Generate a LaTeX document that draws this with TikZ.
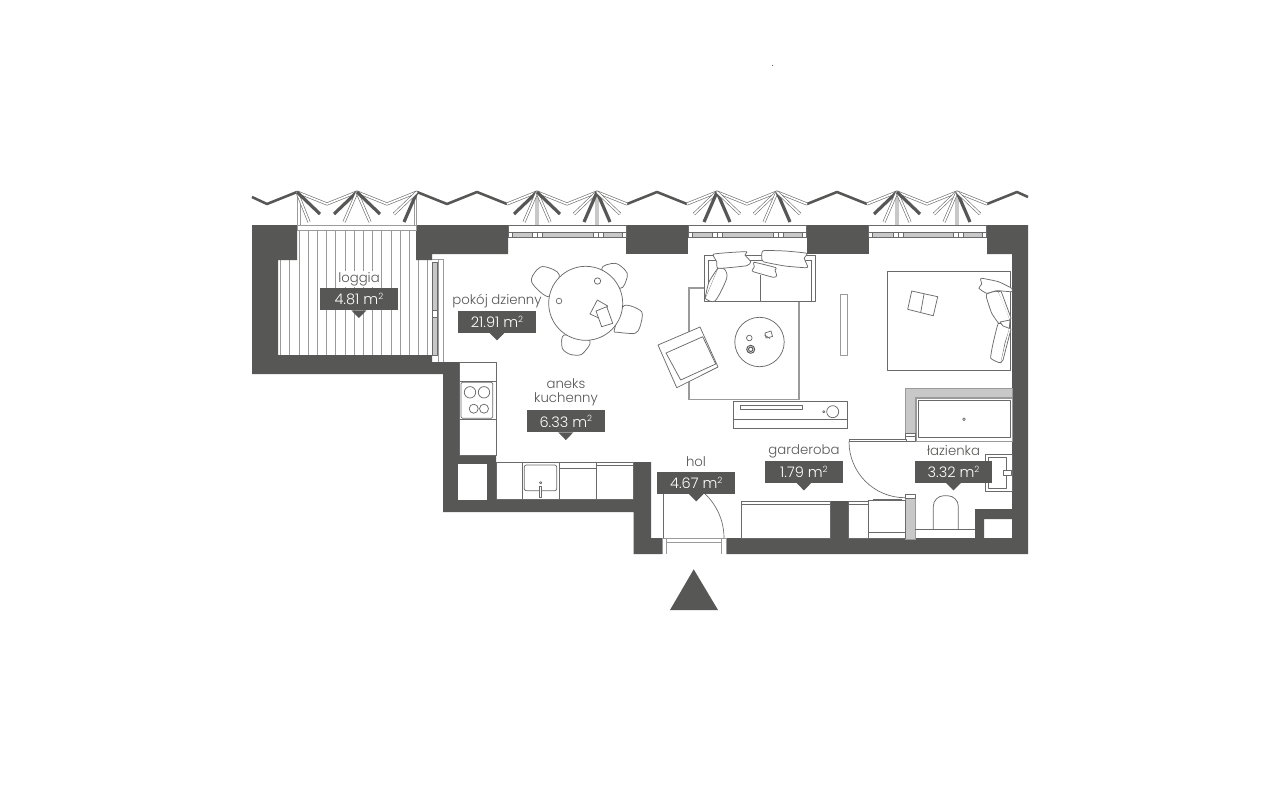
\documentclass[tikz,border=0pt]{standalone}
\usepackage{fontspec}
\setmainfont{Poppins}[UprightFont=* Light]
\definecolor{wall}{HTML}{575756}
\definecolor{ln}{HTML}{6A6A6A}
\definecolor{gr}{HTML}{9A9A9A}
\definecolor{lg}{HTML}{C8C8C8}
\usetikzlibrary{calc}
\tikzset{
 x=0.75pt,y=-0.75pt,
 wl/.style={fill=wall,draw=none},
 thin line/.style={draw=ln,line width=0.5pt,fill=white},
 furn/.style={draw=ln,line width=0.55pt,fill=white,line join=round},
 rugline/.style={draw=gr,line width=0.9pt},
 dk/.style={draw=wall,line width=2.4pt},
 lt/.style={draw=ln,line width=0.45pt,double=white,double distance=1.3pt},
 gy/.style={draw=ln,line width=0.4pt,double=lg,double distance=2.6pt},
 tag/.style={fill=wall,text=white,minimum width=58.2pt,minimum height=16.5pt,inner sep=0pt,font=\fontsize{10.9}{12}\selectfont},
 room/.style={text=wall,inner sep=0.8pt,font=\fontsize{9.95}{11.5}\selectfont,align=center},
 ptr/.style={fill=wall,draw=none}
}
\newcommand{\areatag}[4]{%
 \node[tag] (#1) at (#2,#3) {#4 m{\fontsize{6.5}{7}\selectfont\raisebox{4pt}{2}}};
 \fill[ptr] ($(#1.south)+(-7.5,-0.2)$) -- ($(#1.south)+(7.5,-0.2)$) -- ($(#1.south)+(0,7.5)$) -- cycle;}
\begin{document}
\begin{tikzpicture}
\useasboundingbox (0,0) rectangle (1280,800);
\fill[white] (0,0) rectangle (1280,800);
\fill[wall] (771.6,64.6) rectangle (772.6,65.4);
% loggia hatch
\foreach \n in {0,...,16} \draw[draw=gr,line width=0.55pt] ({280.5+9.2*\n},230) -- ({280.5+9.2*\n},355);
% walls
\fill[wl] (252,225)--(297,225)--(297,260)--(278,260)--(278,355)--(432,355)--(432,362)--(459,362)--(459,455)--(496,455)--(496,499)--(633.5,499)--(633.5,462)--(651,462)--(651,538)--(662,538)--(662,554)--(633.5,554)--(633.5,512)--(443,512)--(443,374)--(252,374)--cycle;
\fill[white] (458,464) rectangle (487,500);
\fill[wl] (726,538)--(1012,538)--(1012,254)--(987,254)--(987,225)--(1028,225)--(1028,554)--(726,554)--cycle;
\fill[wl] (416,225)--(508,225)--(508,254)--(432,254)--(432,260)--(416,260)--cycle;
\fill[wl] (626,225) rectangle (688,254);
\fill[wl] (807,225) rectangle (869,254);
\fill[wl] (831,501) rectangle (848,538);
\fill[wl] (975,509)--(1012,509)--(1012,519)--(984,519)--(984,538)--(975,538)--cycle;
% loggia window
\draw[thin line,draw=gr] (297,225.5) rectangle (416,230);
\draw[draw=gr,line width=0.5pt] (297.5,192)--(297.5,226) (300,194)--(300,226) (414,194)--(414,226) (416,192)--(416,226);
% zigzag
\draw[dk,line width=1.9pt,line join=round] (252,197)--(267,204)--(297,192);
\draw[dk,line width=1.9pt,line join=round] (417,192)--(447,204)--(477,192)--(507,204);
\draw[dk,line width=1.9pt,line join=round] (627,204)--(657,192)--(687,204);
\draw[dk,line width=1.9pt,line join=round] (807,204)--(837,192)--(867,204);
\draw[dk,line width=1.9pt,line join=round] (987,204)--(1017,192)--(1028,197);
\draw[lt,line join=round] (297,192)--(327,204)--(357,192)--(387,204)--(417,192);
\draw[lt,line join=round] (507,204)--(537,192)--(567,204)--(597,192)--(627,204);
\draw[lt,line join=round] (687,204)--(717,192)--(747,204)--(777,192)--(807,204);
\draw[lt,line join=round] (867,204)--(897,192)--(927,204)--(957,192)--(987,204);
% fans
\foreach \p/\a/\b/\c/\d/\e in {357/dk/lt/lt/lt/dk,537/dk/lt/gy/lt/dk,597/lt/dk/gy/dk/lt,717/lt/dk/lt/dk/lt,777/lt/lt/lt/dk/lt,897/dk/lt/gy/lt/dk,957/lt/lt/gy/dk/lt}{
 \draw[\c] (\p,192)--++(0,33);
 \draw[\a] (\p,192)--++(-23,22);
 \draw[\b] (\p,192)--++(-13,30);
 \draw[\d] (\p,192)--++(13,30);
 \draw[\e] (\p,192)--++(23,22);
}
\draw[lt] (297,192)--++(12,30); \draw[dk] (297,192)--++(23,22);
\draw[dk] (417,192)--++(-13,30); \draw[lt] (417,192)--++(-23,22);
% top windows
\foreach \s in {508,688,868.5}{
 \draw[thin line,draw=ln] (\s,225.5) rectangle ++(118,7);
 \draw[thin line,draw=ln,fill=lg] (\s,232.5) rectangle ++(118,5);
 \draw[thin line,draw=ln] (\s,232.5) rectangle ++(4,5);
 \draw[thin line,draw=ln] (\s+24.5,232.5) rectangle ++(10,5);
 \draw[draw=ln,line width=0.4pt] (\s+29.5,232.5)--++(0,5);
 \draw[thin line,draw=ln] (\s+85,232.5) rectangle ++(10,5);
 \draw[draw=ln,line width=0.4pt] (\s+90,232.5)--++(0,5);
 \draw[thin line,draw=ln] (\s+114,232.5) rectangle ++(4,5);
}
% side door
\draw[draw=gr,line width=0.6pt] (432,259)--(443.3,259) (443.3,259)--(443.3,362) (438,259)--(438,362);
\draw[draw=ln,line width=0.5pt,fill=lg] (432.8,262) rectangle (437.3,310);
\draw[draw=ln,line width=0.5pt,fill=lg] (432.8,317) rectangle (437.3,355);
\draw[draw=ln,line width=0.5pt] (432.8,310) rectangle (437.3,317);
% rug living
\draw[rugline] (704,288)--(689,288)--(689,399.3)--(799,399.3)--(799,301);
% dining
\draw[furn] plot[smooth cycle,tension=.55] coordinates {(559.3,275)(545,266.7)(536.7,270)(531.7,282.3)(549.3,296.7)};
\draw[furn] plot[smooth cycle,tension=.55] coordinates {(601.7,269)(615,263.3)(625,270)(627.3,276.7)(620,288.3)};
\draw[furn] plot[smooth cycle,tension=.45] coordinates {(624,305.7)(641.7,311.7)(640,326.7)(635,333.3)(618.3,332.3)(614.3,330)};
\draw[furn] plot[smooth cycle,tension=.45] coordinates {(564,335)(562.3,348.3)(570,354.3)(581.7,354.3)(590,341)};
\node[circle,furn,minimum size=55.5pt,inner sep=0pt] (dtable) at (585.7,303.3) {};
\draw[furn] (597.5,281) circle[radius=3.2];
\draw[furn] (559,301) circle[radius=2.8];
\draw[furn] (597.3,300)--(607.7,306)--(601,319)--(590,314)--cycle;
\draw[furn] (596,311)--(606.7,306.7)--(612.7,323.3)--(601.7,326.7)--cycle;
% sofa
\draw[furn] (704,255) rectangle (815.7,301.7);
\draw[furn] (708.7,260)--(708.7,301.7) (811.7,260)--(811.7,301.7) (708.7,260)--(811.7,260);
\draw[furn] (760,275)--(760,301.7);
\draw[furn] plot[smooth,tension=.5] coordinates {(717.7,268.3)(724.3,269)(726.7,278.3)(715,301)(705,298.3)} -- cycle;
\draw[furn] plot[smooth,tension=.4] coordinates {(717.7,268.3)(709,282)(705,298.3)};
\draw[furn] plot[smooth cycle,tension=.3] coordinates {(713.3,254.3)(730,252.5)(746.7,251.7)(745,255)(750.7,261.7)(746.7,265.7)(718.3,268.3)(716.7,261.7)};
\draw[furn] plot[smooth cycle,tension=.3] coordinates {(754.3,262.3)(776,267.7)(775,270)(776.7,275.7)(773.3,277.3)(753.3,271.7)(752.3,270)(754.3,266.7)};
\draw[furn] plot[smooth cycle,tension=.3] coordinates {(763.3,250.7)(785,251)(806.7,253.3)(804.3,258.3)(807.7,266.7)(805,267.7)(785,266)(763.3,261.7)(761.7,256.7)};
% armchair
\draw[furn] (658,345)--(700,327)--(718,367)--(676.7,387.7)--cycle;
\draw[furn] (666,353)--(702.7,336.7)--(715.7,364)--(680.7,380)--cycle;
% coffee table
\draw[furn] (759.5,342) circle[radius=24.7];
\draw[furn] (749.3,338) circle[radius=2.8];
\draw[draw=wall,line width=0.7pt] (750.7,349.3) circle[radius=4] (750.7,349.3) circle[radius=2.2];
\draw[furn] (765,333)--(771,331)--(772.5,336.5)--(766,338)--cycle;
\draw[furn] (764.5,335)--(770,338.5);
% tv stand panel
\draw[furn,draw=gr,line width=0.7pt] (840,294) rectangle (847.3,355);
% bed rug
\draw[furn,draw=ln,line width=0.7pt] (887.3,271) rectangle (1010.7,370.7);
\draw[furn] (911.7,291)--(937.7,296.7)--(933.3,315.7)--(907.7,309.3)--cycle;
\draw[furn] (924,294)--(920.7,312.5);
\draw[furn] plot[smooth cycle,tension=.3] coordinates {(981,278.3)(998.3,281.7)(1011.7,288.3)(1011.7,291.7)(996.7,290.7)(986.7,293.3)(979,288.3)(981.7,284)};
\draw[furn] plot[smooth cycle,tension=.25] coordinates {(986.7,294)(998.3,291.7)(1010,320)(1003.3,321.7)(1000,325)(991.7,313.3)(986.7,298.3)};
\draw[furn] (998.3,291.7)--(1001,291)--(1011,318)--(1010,320);
\draw[furn] plot[smooth cycle,tension=.2] coordinates {(998.3,323.3)(1009.3,328.3)(1005,343.3)(1000.7,362.7)(990.7,358.3)(992.7,345)};
\draw[furn] (1009.3,328.3)--(1011,329)--(1003,360)--(1000.7,362.7);
\draw[furn] (1000,322)--(1010,320)--(1009.3,328.3)--(1003,326)--cycle;
% tv cabinet
\draw[furn] (733.3,401) rectangle (847.7,428.5);
\draw[draw=ln,line width=0.7pt] (733.3,419.3)--(847.7,419.3);
\draw[draw=ln,line width=1pt] (733.3,428.5)--(847.7,428.5);
\draw[furn] (740,405.7) rectangle (802,409.7);
\draw[furn] (832.7,411.7) circle[radius=6];
\draw[furn] (823.7,411.7) circle[radius=1.1];
% bathroom
\draw[draw=gr,line width=0.6pt,fill=lg] (1012,388.3)--(905.3,388.3)--(905.3,437)--(915,437)--(915,397.3)--(1012,397.3)--cycle;
\draw[furn,draw=gr,line width=0.7pt] (916.7,398.3) rectangle (1012,441.7);
\draw[furn] (918.5,400.7) rectangle (1010,437.3);
\draw[furn] (964,419.3) circle[radius=1.4];
\draw[furn] (905.3,433.5) rectangle (915,436.5);
\draw[furn] (905.3,436.5) rectangle (915,441);
\draw[furn] (849,439.3) rectangle (906,441.7);
\draw[draw=ln,line width=0.5pt] (849,441.7) arc[start angle=180,end angle=90,radius=56];
\draw[draw=gr,line width=0.6pt,fill=lg] (905.3,495) rectangle (915,539);
\draw[furn] (905.3,494.5) rectangle (915,498);
\draw[furn] (985.7,454) rectangle (1012,491);
\draw[furn] (988.3,457) rectangle (1006.7,488.3);
\draw[furn] (1003,470.5) rectangle (1011,475);
\draw[furn,rounded corners=8pt] (933.3,529.5)--(933.3,495.7)--(958.3,495.7)--(958.3,529.5);
\draw[furn,rounded corners=0pt] (933.3,529)--(958.3,529);
\draw[draw=ln,line width=0.5pt] (915,529)--(975,529);
% garderoba fittings
\draw[furn] (741,501.2) rectangle (830.7,538);
\draw[draw=ln,line width=0.5pt] (741,504.3)--(830.7,504.3);
\draw[furn] (848,501.5) rectangle (868.3,538);
\draw[draw=ln,line width=0.5pt] (848,504.3)--(868.3,504.3);
\draw[furn] (868.3,500.7) rectangle (905,538);
\draw[draw=ln,line width=0.5pt] (868.3,532.7)--(905,532.7) (873,499)--(902,499);
% kitchen
\draw[furn] (459,362) rectangle (496,455);
\draw[draw=ln,line width=0.5pt] (459,381.7)--(496,381.7) (459,419.3)--(496,419.3);
\draw[furn,rounded corners=1pt] (461,382.2) rectangle (492.7,418.3);
\draw[furn] (470,392.3) circle[radius=5.7] (484,392.3) circle[radius=5.7] (473.7,408.7) circle[radius=4.5] (484,408.7) circle[radius=4.5];
\draw[furn] (496,462) rectangle (633.5,499);
\draw[draw=ln,line width=0.5pt] (522.3,462)--(522.3,499) (559,462)--(559,499) (596,462)--(596,499) (559,468.3)--(596,468.3) (596,465)--(633.5,465);
\draw[furn,rounded corners=1.5pt] (524.3,465) rectangle (556.7,490.7);
\draw[furn] (540.7,482.7) circle[radius=1.2];
\draw[furn] (539.3,486.7) rectangle (541.7,497.3);
% hall
\draw[draw=ln,line width=0.5pt] (663.3,493)--(663.3,538);
\draw[draw=ln,line width=0.5pt] (724,538) arc[start angle=0,end angle=-60,radius=60.8];
\draw[draw=gr,line width=0.5pt] (662,538)--(726,538) (666,542.7)--(721.7,542.7);
\draw[draw=gr,line width=0.5pt] (662,538)--(662,554) (666,538)--(666,554) (721.7,538)--(721.7,554) (726,538)--(726,554);
% entrance arrow
\fill[wl] (693.7,569.3)--(718,610)--(670,610)--cycle;
% labels
\node[room,fill=white] (lloggia) at (359,279) {loggia};
\areatag{tloggia}{358.9}{299.3}{4.81}
\node[room] (lpokoj) at (497,301) {pokój dzienny};
\areatag{tpokoj}{497}{321.7}{21.91}
\node[room] (laneks) at (566,392.5) {aneks\\[-1.2pt]kuchenny};
\areatag{taneks}{565.8}{421.3}{6.33}
\node[room] (lhol) at (696,462) {hol};
\areatag{thol}{696.2}{482.7}{4.67}
\node[room] (lgard) at (804,451.5) {garderoba};
\areatag{tgard}{803.9}{471.7}{1.79}
\node[room] (llaz) at (953.5,451) {łazienka};
\areatag{tlaz}{953.5}{471.7}{3.32}
\end{tikzpicture}
\end{document}
